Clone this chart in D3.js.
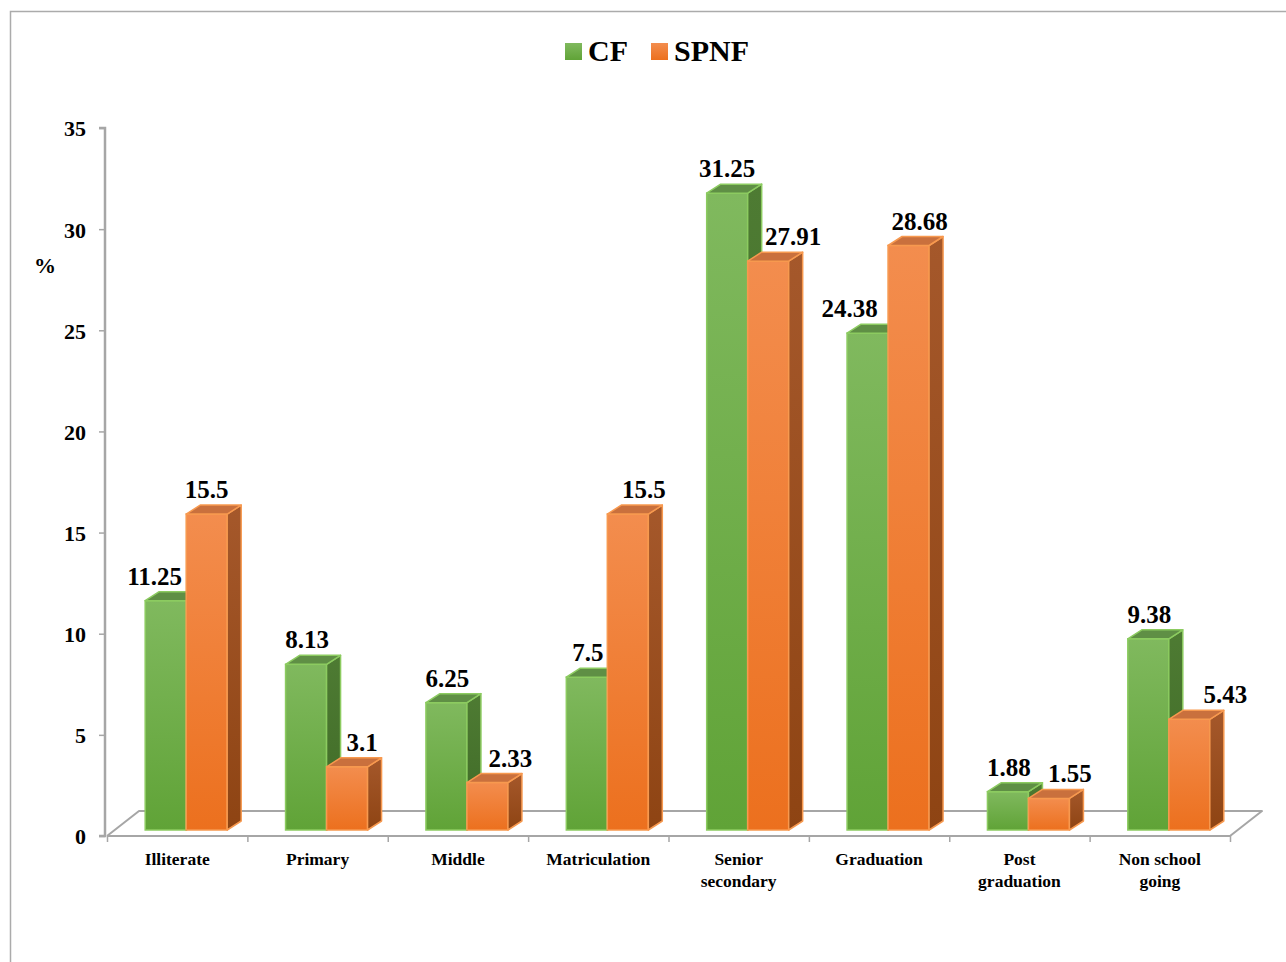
<!DOCTYPE html>
<html>
<head>
<meta charset="utf-8">
<script src="https://cdn.jsdelivr.net/npm/d3@7"></script>
<style>
  html, body { margin: 0; padding: 0; background: #ffffff; }
  svg { display: block; }
  text { font-family: "Liberation Serif", "Times New Roman", serif; font-weight: bold; fill: #000; }
</style>
</head>
<body>
<svg id="chart" width="1286" height="962"></svg>
<script>
// Education level of respondents, CF vs SPNF (%)
const categories = [
  ["Illiterate"], ["Primary"], ["Middle"], ["Matriculation"],
  ["Senior", "secondary"], ["Graduation"], ["Post", "graduation"], ["Non school", "going"]
];
const seriesNames = ["CF", "SPNF"];
const cfValues   = [11.25, 8.13, 6.25, 7.5, 31.25, 24.38, 1.88, 9.38];
const spnfValues = [15.5, 3.1, 2.33, 15.5, 27.91, 28.68, 1.55, 5.43];
const yTicks = [0, 5, 10, 15, 20, 25, 30, 35];

// Layout
const W = 1286, H = 962;
const plot = { left: 107, right: 1230, axisBottom: 836, axisTop: 128 };
const floorDepth = { dx: 32, dy: 25 };
const barBase = 830;          // front-face base of the bars (set back into the floor)
const barUnit = 20.38;        // px per % on the bars' plane
const barShift = 9;           // horizontal shift of bars into the depth
const barW = 41;
const bar3d = { dx: 14, dy: 9 };
// horizontal nudges of the value labels (px) for each series
const labelNudge = [
  [-11, 1, 1, 1, 0, -18, 1, 1],
  [0, 15, 23, 16, 25, 11, 21, 36]
];

const palette = [
  { frontTop: "#80b95e", frontBot: "#60a337", side: "#4e7b33", sideBot: "#3f6a26", top: "#5f8f45", stroke: "#8ccb60" },
  { frontTop: "#f38d4e", frontBot: "#ec701e", side: "#a5582b", sideBot: "#8e4413", top: "#c9703d", stroke: "#f7994f" }
];

const svg = d3.select("#chart");

// Chart frame
svg.append("rect")
  .attr("x", 10.5).attr("y", 11.5)
  .attr("width", W + 20).attr("height", H + 20)
  .attr("fill", "none").attr("stroke", "#ababab").attr("stroke-width", 1.5);

// Gradients
const defs = svg.append("defs");
palette.forEach((p, s) => {
  const g = defs.append("linearGradient").attr("id", "front" + s)
    .attr("x1", 0).attr("y1", 0).attr("x2", 0).attr("y2", 1);
  g.append("stop").attr("offset", "0%").attr("stop-color", p.frontTop);
  g.append("stop").attr("offset", "100%").attr("stop-color", p.frontBot);
  const gs = defs.append("linearGradient").attr("id", "side" + s)
    .attr("x1", 0).attr("y1", 0).attr("x2", 0).attr("y2", 1);
  gs.append("stop").attr("offset", "0%").attr("stop-color", p.side);
  gs.append("stop").attr("offset", "100%").attr("stop-color", p.sideBot);
});

// Scales
const yAxisScale = d3.scaleLinear().domain([0, 35]).range([plot.axisBottom, plot.axisTop]);
const yBar = d3.scaleLinear().domain([0, 35]).range([barBase, barBase - 35 * barUnit]);
const xBand = d3.scaleBand().domain(d3.range(categories.length)).range([plot.left, plot.right]).padding(0);
const xIndex = d3.scaleLinear().domain([0, categories.length]).range([plot.left, plot.right]);

// Floor outline
const fl = plot.left, fr = plot.right, fb = plot.axisBottom;
const floorPts = [
  [fl, fb], [fr, fb], [fr + floorDepth.dx, fb - floorDepth.dy],
  [fl + floorDepth.dx, fb - floorDepth.dy], [fl, fb]
];
svg.append("path")
  .attr("d", d3.line()(floorPts))
  .attr("fill", "none").attr("stroke", "#a6a6a6").attr("stroke-width", 2)
  .attr("stroke-linejoin", "round");

// Category tick marks
const xAxis = d3.axisBottom(xIndex).tickValues(d3.range(categories.length + 1))
  .tickSize(6).tickFormat("");
const gx = svg.append("g").attr("transform", `translate(0,${plot.axisBottom})`).call(xAxis);
gx.select(".domain").remove();
gx.selectAll("line").attr("stroke", "#a6a6a6").attr("stroke-width", 1.5);

// Category labels
categories.forEach((lines, i) => {
  const cx = xBand(i) + xBand.bandwidth() / 2;
  const t = svg.append("text").attr("text-anchor", "middle").attr("font-size", 17.5);
  lines.forEach((ln, k) => {
    t.append("tspan").attr("x", cx).attr("y", 865 + k * 22).text(ln);
  });
});

// Y axis
const yAxis = d3.axisLeft(yAxisScale).tickValues(yTicks).tickSize(6).tickPadding(13);
const gy = svg.append("g").attr("transform", `translate(${plot.left - 2},0)`).call(yAxis);
gy.select(".domain").attr("stroke", "#a6a6a6").attr("stroke-width", 2.5)
  .attr("d", `M-6,${plot.axisTop}H0V${plot.axisBottom}H-6`);
gy.selectAll(".tick line").attr("stroke", "#a6a6a6").attr("stroke-width", 1.5);
gy.selectAll(".tick text")
  .attr("font-family", "'Liberation Serif', 'Times New Roman', serif")
  .attr("font-weight", "bold").attr("font-size", 22).attr("fill", "#000")
  .attr("dy", "0.36em");

svg.append("text").attr("x", 45).attr("y", 273).attr("text-anchor", "middle")
  .attr("font-size", 22).text("%");

// 3D bars
const seriesValues = [cfValues, spnfValues];
const groupStart = i => xBand(i) + xBand.bandwidth() / 2 + barShift - barW;

categories.forEach((_, i) => {
  seriesValues.forEach((vals, s) => {
    const v = vals[i];
    const x0 = groupStart(i) + s * barW;
    const x1 = x0 + barW;
    const yt = yBar(v);
    const yb = yBar(0);
    const { dx, dy } = bar3d;
    const p = palette[s];
    const g = svg.append("g").attr("class", "bar");
    g.append("rect")
      .attr("x", x0).attr("y", yt).attr("width", barW).attr("height", yb - yt)
      .attr("fill", `url(#front${s})`).attr("stroke", p.stroke).attr("stroke-width", 1.5);
    g.append("path")
      .attr("d", d3.line()([[x1, yt], [x1 + dx, yt - dy], [x1 + dx, yb - dy], [x1, yb]]) + "Z")
      .attr("fill", `url(#side${s})`).attr("stroke", p.stroke).attr("stroke-width", 1.5)
      .attr("stroke-linejoin", "round");
    g.append("path")
      .attr("d", d3.line()([[x0, yt], [x0 + dx, yt - dy], [x1 + dx, yt - dy], [x1, yt]]) + "Z")
      .attr("fill", p.top).attr("stroke", p.stroke).attr("stroke-width", 1.5)
      .attr("stroke-linejoin", "round");
  });
});

// Value labels
seriesValues.forEach((vals, s) => {
  vals.forEach((v, i) => {
    const x0 = groupStart(i) + s * barW;
    svg.append("text")
      .attr("x", x0 + barW / 2 + labelNudge[s][i])
      .attr("y", yBar(v) - 16)
      .attr("text-anchor", "middle")
      .attr("font-size", 25)
      .text(v);
  });
});

// Legend
const legend = svg.append("g");
const legendItems = [
  { name: seriesNames[0], sx: 565, tx: 588 },
  { name: seriesNames[1], sx: 651, tx: 674 }
];
legendItems.forEach((d, s) => {
  legend.append("rect").attr("x", d.sx).attr("y", 43).attr("width", 17).attr("height", 17)
    .attr("fill", `url(#front${s})`);
  legend.append("text").attr("x", d.tx).attr("y", 61).attr("font-size", 30).text(d.name);
});
</script>
</body>
</html>
